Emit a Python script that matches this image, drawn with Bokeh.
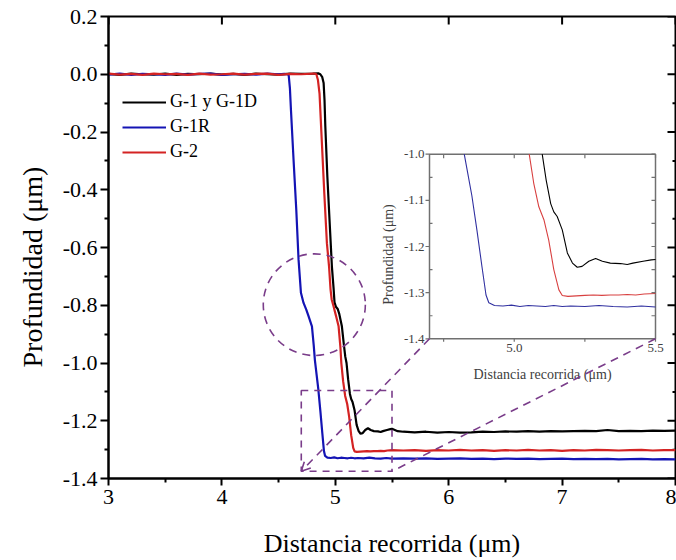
import math
from bokeh.plotting import figure
from bokeh.models import (Range1d, FixedTicker, NumeralTickFormatter, Title,
                          Legend, LegendItem, Arrow, OpenHead)
from bokeh.core.properties import value
from bokeh.embed import file_html
from bokeh.resources import INLINE

# ---------------- data ----------------
flat_x = [3.0, 3.1, 3.2, 3.3, 3.4, 3.5, 3.6, 3.7, 3.8, 3.9, 4.0, 4.1, 4.2, 4.3, 4.4, 4.5]

g1_x = flat_x + [4.6, 4.7, 4.8,
        4.85, 4.868, 4.885, 4.897, 4.905, 4.912, 4.93, 4.949, 4.97, 4.985,
        4.993, 5.005, 5.02, 5.035, 5.058, 5.075, 5.088, 5.099, 5.113, 5.129,
        5.14, 5.152, 5.17, 5.188, 5.206, 5.223, 5.24, 5.264, 5.288, 5.312,
        5.34, 5.376, 5.4, 5.42, 5.456, 5.485, 5.5, 5.55, 5.6, 5.7,
        5.8, 5.9, 6.0, 6.1, 6.2, 6.3, 6.4, 6.5, 6.6, 6.7,
        6.8, 6.9, 7.0, 7.1, 7.2, 7.3, 7.4, 7.5, 7.6, 7.7,
        7.8, 7.9, 8.0]
g1_y = [0.001, -0.002, 0.002, 0.000, -0.001, 0.002, -0.002, 0.001, 0.000, 0.002,
        -0.001, 0.001, -0.002, 0.002, 0.000, -0.001, 0.002, 0.001, 0.002,
        0.003, 0.000, -0.010, -0.030, -0.090, -0.180, -0.355, -0.504, -0.666, -0.742,
        -0.790, -0.805, -0.812, -0.830, -0.873, -0.935, -0.978, -1.000, -1.056, -1.107,
        -1.125, -1.135, -1.164, -1.214, -1.236, -1.245, -1.243, -1.232, -1.226, -1.232,
        -1.236, -1.237, -1.239, -1.236, -1.232, -1.229, -1.228, -1.236, -1.238, -1.240,
        -1.238, -1.241, -1.239, -1.241, -1.240, -1.238, -1.239, -1.237, -1.238, -1.236,
        -1.238, -1.236, -1.237, -1.236, -1.235, -1.236, -1.232, -1.236, -1.235, -1.236,
        -1.234, -1.235, -1.234]

g1r_x = flat_x + [4.55, 4.575, 4.589, 4.60, 4.609, 4.632, 4.656, 4.676, 4.697, 4.72,
         4.744, 4.764, 4.794, 4.81, 4.82, 4.835, 4.85, 4.868, 4.886, 4.90,
         4.91, 4.93, 4.96, 4.99, 5.02, 5.05, 5.08, 5.11, 5.14, 5.17,
         5.2, 5.25, 5.3, 5.35, 5.4, 5.45, 5.5,
         5.6, 5.7, 5.8, 5.9, 6.0, 6.1, 6.2, 6.3, 6.4, 6.5,
         6.6, 6.7, 6.8, 6.9, 7.0, 7.1, 7.2, 7.3, 7.4, 7.5,
         7.6, 7.7, 7.8, 7.9, 8.0]
g1r_y = [-0.001, 0.002, -0.002, 0.001, 0.000, -0.002, 0.002, -0.001, 0.001, 0.002,
         -0.002, 0.000, 0.001, -0.001, 0.002, 0.000,
         0.001, 0.000, -0.003, -0.050, -0.124, -0.297, -0.470, -0.642, -0.757, -0.792,
         -0.815, -0.838, -0.873, -0.940, -0.990, -1.040, -1.090, -1.165, -1.245, -1.305,
         -1.322, -1.328, -1.329, -1.327, -1.330, -1.328, -1.329, -1.330, -1.328, -1.330,
         -1.329, -1.330, -1.328, -1.330, -1.331, -1.329, -1.331,
         -1.330, -1.331, -1.330, -1.332, -1.331, -1.330, -1.332, -1.331, -1.333, -1.331,
         -1.332, -1.331, -1.333, -1.332, -1.331, -1.333, -1.332, -1.333, -1.332, -1.334,
         -1.333, -1.332, -1.334, -1.333, -1.334]

g2_x = flat_x + [4.6, 4.7, 4.8,
        4.82, 4.833, 4.847, 4.861, 4.882, 4.903, 4.926, 4.945, 4.958, 4.968,
        4.985, 5.005, 5.029, 5.045, 5.053, 5.069, 5.087, 5.105, 5.122, 5.14,
        5.158, 5.17, 5.19, 5.22, 5.25, 5.28, 5.31, 5.34, 5.37, 5.4,
        5.43, 5.46, 5.5,
        5.6, 5.7, 5.8, 5.9, 6.0, 6.1, 6.2, 6.3, 6.4, 6.5,
        6.6, 6.7, 6.8, 6.9, 7.0, 7.1, 7.2, 7.3, 7.4, 7.5,
        7.6, 7.7, 7.8, 7.9, 8.0]
g2_y = [0.002, -0.001, 0.001, -0.002, 0.002, 0.000, 0.001, -0.002, 0.002, -0.001,
        0.000, 0.002, -0.001, 0.001, 0.002, -0.002, 0.001, 0.000, 0.002,
        0.002, 0.000, -0.020, -0.067, -0.240, -0.412, -0.585, -0.666, -0.745, -0.780,
        -0.804, -0.835, -0.873, -0.945, -1.000, -1.063, -1.114, -1.142, -1.186, -1.250,
        -1.294, -1.306, -1.308, -1.307, -1.306, -1.305, -1.306, -1.305, -1.305, -1.304,
        -1.305, -1.303, -1.302,
        -1.303, -1.302, -1.304, -1.302, -1.303, -1.301, -1.303, -1.302, -1.304, -1.302,
        -1.303, -1.301, -1.303, -1.302, -1.304, -1.302, -1.303, -1.301, -1.302, -1.303,
        -1.302, -1.301, -1.303, -1.302, -1.302]

series_labels = ["G-1 y G-1D", "G-1R", "G-2"]

x_tick_values = [3, 4, 5, 6, 7, 8]
x_tick_labels = ["3", "4", "5", "6", "7", "8"]
x_minor_values = [3.5, 4.5, 5.5, 6.5, 7.5]
y_tick_values = [-1.4, -1.2, -1.0, -0.8, -0.6, -0.4, -0.2, 0.0, 0.2]
y_tick_labels = ["-1.4", "-1.2", "-1.0", "-0.8", "-0.6", "-0.4", "-0.2", "0.0", "0.2"]
y_minor_values = [-1.3, -1.1, -0.9, -0.7, -0.5, -0.3, -0.1, 0.1]

inset_x_lim = [4.7, 5.5]
inset_y_lim = [-1.4, -1.0]
inset_x_ticks = [5.0, 5.5]
inset_x_tick_labels = ["5.0", "5.5"]
inset_x_minor = [4.75, 5.25]
inset_y_ticks = [-1.4, -1.3, -1.2, -1.1, -1.0]
inset_y_tick_labels = ["-1.4", "-1.3", "-1.2", "-1.1", "-1.0"]
inset_y_minor = [-1.35, -1.25, -1.15, -1.05]

# highlighted regions on the main plot
circle_center = (4.815, -0.798)
circle_size = (0.90, 0.352)
zoom_box = dict(left=4.7, right=5.5, top=-1.095, bottom=-1.375)

for xs, ys in ((g1_x, g1_y), (g1r_x, g1r_y), (g2_x, g2_y)):
    assert len(xs) == len(ys), (len(xs), len(ys))

# ---------------- layout / style ----------------
W, H = 676, 560
F_L, F_R, F_T, F_B = 108, 675, 16, 479          # main frame in px
I_L, I_R, I_T, I_B = 429, 655, 154, 339          # inset frame in px
FONT_S = "Liberation Serif"
FONT = value(FONT_S)
PURPLE = "#7a3d8a"
C_BLACK, C_BLUE, C_RED = "#000000", "#1414b4", "#d42323"
C_BLUE_I, C_RED_I = "#3030a0", "#d84040"

X0, X1 = 3.0, 8.0
Y0, Y1 = -1.4, 0.2

p = figure(width=W, height=H, output_backend="svg", toolbar_location=None,
           x_range=Range1d(X0, X1), y_range=Range1d(Y0, Y1),
           min_border_left=F_L, min_border_right=W - F_R,
           min_border_top=F_T, min_border_bottom=H - F_B,
           background_fill_color="white", border_fill_color="white")
p.xgrid.visible = False
p.ygrid.visible = False
p.outline_line_color = "black"
p.outline_line_width = 2
p.outline_line_alpha = 1.0

xa = p.xaxis[0]
ya = p.yaxis[0]
xa.ticker = FixedTicker(ticks=x_tick_values, minor_ticks=x_minor_values)
ya.ticker = FixedTicker(ticks=y_tick_values, minor_ticks=y_minor_values)
xa.major_label_overrides = {v: l for v, l in zip(x_tick_values, x_tick_labels)}
ya.formatter = NumeralTickFormatter(format="0.0")
ya.major_label_overrides = {v: l for v, l in zip(y_tick_values, y_tick_labels)}
xa.axis_label = "Distancia recorrida (μm)"
for ax in (xa, ya):
    ax.axis_line_width = 2
    ax.axis_line_color = "black"
    ax.major_tick_line_width = 2
    ax.minor_tick_line_width = 2
    ax.major_label_text_font = FONT_S
    ax.major_label_text_font_size = "22px"
    ax.major_label_text_color = "black"
    ax.axis_label_text_font = FONT_S
    ax.axis_label_text_font_size = "26px"
    ax.axis_label_text_font_style = "normal"
    ax.axis_label_text_color = "black"
    ax.major_tick_in = 0
    ax.minor_tick_in = 0
xa.major_tick_out = 7
xa.minor_tick_out = 4
xa.major_label_standoff = 4
xa.axis_label_standoff = 22
ya.major_tick_out = 8
ya.minor_tick_out = 4
ya.major_label_standoff = 3

# y-axis title as a side title, starting a little above the frame bottom as in the reference
p.add_layout(Title(text="Profundidad (μm)", align="left", offset=111, standoff=24,
                   text_font=FONT_S, text_font_size="28px", text_font_style="normal",
                   text_color="black"), "left")

# mirrored ticks on the top and right frame edges (inward)
p.ray(x=x_tick_values, y=[Y1] * len(x_tick_values), length=8, length_units="screen",
      angle=-math.pi / 2, line_color="black", line_width=2)
p.ray(x=[X1] * len(y_tick_values), y=y_tick_values, length=8, length_units="screen",
      angle=math.pi, line_color="black", line_width=2)
p.ray(x=[X1] * len(y_minor_values), y=y_minor_values, length=3, length_units="screen",
      angle=math.pi, line_color="black", line_width=2)

# ---------------- main curves ----------------
r_g1 = p.line(g1_x, g1_y, line_color=C_BLACK, line_width=2.2)
r_g1r = p.line(g1r_x, g1r_y, line_color=C_BLUE, line_width=2.2)
r_g2 = p.line(g2_x, g2_y, line_color=C_RED, line_width=2.2)

# ---------------- annotations on main plot ----------------
p.ellipse(x=[circle_center[0]], y=[circle_center[1]], width=[circle_size[0]], height=[circle_size[1]],
          fill_alpha=0, line_color=PURPLE, line_width=1.6, line_dash="8 6")
p.quad(left=[zoom_box["left"]], right=[zoom_box["right"]], top=[zoom_box["top"]],
       bottom=[zoom_box["bottom"]], fill_alpha=0, line_color=PURPLE, line_width=1.6,
       line_dash="7 6")

# ---------------- inset via extra ranges ----------------
sxu = (I_R - I_L) / (inset_x_lim[1] - inset_x_lim[0])
ix0 = inset_x_lim[0] - (I_L - F_L) / sxu
ix1 = ix0 + (F_R - F_L) / sxu
syu = (I_B - I_T) / (inset_y_lim[1] - inset_y_lim[0])
iy0 = inset_y_lim[0] - (F_B - I_B) / syu
iy1 = iy0 + (F_B - F_T) / syu
p.extra_x_ranges = {"ix": Range1d(ix0, ix1)}
p.extra_y_ranges = {"iy": Range1d(iy0, iy1)}
IR = dict(x_range_name="ix", y_range_name="iy")


def inset_to_main(xv, yv):
    mx = X0 + (xv - ix0) / (ix1 - ix0) * (X1 - X0)
    my = Y0 + (yv - iy0) / (iy1 - iy0) * (Y1 - Y0)
    return mx, my


def clip_polyline(xs, ys, x0, x1, y0, y1):
    out_x, out_y, cx, cy = [], [], [], []
    for i in range(len(xs) - 1):
        ax_, ay_, bx_, by_ = xs[i], ys[i], xs[i + 1], ys[i + 1]
        dx, dy = bx_ - ax_, by_ - ay_
        t0, t1, ok = 0.0, 1.0, True
        for pk, qk in ((-dx, ax_ - x0), (dx, x1 - ax_), (-dy, ay_ - y0), (dy, y1 - ay_)):
            if pk == 0:
                if qk < 0:
                    ok = False
                    break
            else:
                r = qk / pk
                if pk < 0:
                    if r > t1:
                        ok = False
                        break
                    t0 = max(t0, r)
                else:
                    if r < t0:
                        ok = False
                        break
                    t1 = min(t1, r)
        if not ok:
            if cx:
                out_x.append(cx); out_y.append(cy); cx, cy = [], []
            continue
        sx_, sy_ = ax_ + t0 * dx, ay_ + t0 * dy
        ex_, ey_ = ax_ + t1 * dx, ay_ + t1 * dy
        if not cx or t0 > 0:
            if cx:
                out_x.append(cx); out_y.append(cy)
            cx, cy = [sx_], [sy_]
        cx.append(ex_); cy.append(ey_)
        if t1 < 1.0:
            out_x.append(cx); out_y.append(cy); cx, cy = [], []
    if cx:
        out_x.append(cx); out_y.append(cy)
    return out_x, out_y


# inset background/frame
p.quad(left=[inset_x_lim[0]], right=[inset_x_lim[1]], bottom=[inset_y_lim[0]], top=[inset_y_lim[1]],
       fill_color="white", line_color="#707070", line_width=1.5, **IR)

for xs, ys, col in ((g1_x, g1_y, C_BLACK), (g2_x, g2_y, C_RED_I), (g1r_x, g1r_y, C_BLUE_I)):
    mx, my = clip_polyline(xs, ys, inset_x_lim[0], inset_x_lim[1], inset_y_lim[0], inset_y_lim[1])
    p.multi_line(mx, my, line_color=col, line_width=1.1, **IR)

TICK_C = "#707070"
p.ray(x=[inset_x_lim[0]] * len(inset_y_ticks), y=inset_y_ticks, length=4, length_units="screen",
      angle=math.pi, line_color=TICK_C, line_width=1.2, **IR)
p.ray(x=[inset_x_lim[0]] * len(inset_y_minor), y=inset_y_minor, length=3, length_units="screen",
      angle=0, line_color=TICK_C, line_width=1.2, **IR)
p.ray(x=[inset_x_lim[1]] * len(inset_y_ticks + inset_y_minor), y=inset_y_ticks + inset_y_minor,
      length=4, length_units="screen", angle=math.pi, line_color=TICK_C, line_width=1.2, **IR)
p.ray(x=inset_x_ticks + inset_x_minor, y=[inset_y_lim[0]] * 4, length=3, length_units="screen",
      angle=-math.pi / 2, line_color=TICK_C, line_width=1.2, **IR)
p.ray(x=inset_x_ticks + inset_x_minor, y=[inset_y_lim[1]] * 4, length=4, length_units="screen",
      angle=-math.pi / 2, line_color=TICK_C, line_width=1.2, **IR)

LBL_C = "#404040"
p.text(x=[inset_x_lim[0]] * len(inset_y_ticks), y=inset_y_ticks, text=inset_y_tick_labels,
       x_offset=-5, text_align="right", text_baseline="middle", text_font=FONT,
       text_font_size="13px", text_color=LBL_C, **IR)
p.text(x=inset_x_ticks, y=[inset_y_lim[0]] * len(inset_x_ticks), text=inset_x_tick_labels,
       y_offset=5, text_align="center", text_baseline="top", text_font=FONT,
       text_font_size="13px", text_color=LBL_C, **IR)
p.text(x=[sum(inset_x_lim) / 2], y=[inset_y_lim[0]], text=["Distancia recorrida (μm)"],
       y_offset=36, text_align="center", text_baseline="middle", text_font=FONT,
       text_font_size="14px", text_color=LBL_C, **IR)
p.text(x=[inset_x_lim[0]], y=[sum(inset_y_lim) / 2], text=["Profundidad (μm)"],
       x_offset=-41, y_offset=8, angle=math.pi / 2, text_align="center", text_baseline="middle",
       text_font=FONT, text_font_size="14px", text_color=LBL_C, **IR)

# connectors from inset corners to the zoom box
bl = inset_to_main(inset_x_lim[0], inset_y_lim[0])
br = inset_to_main(inset_x_lim[1], inset_y_lim[0])
p.add_layout(Arrow(x_start=bl[0], y_start=bl[1], x_end=zoom_box["left"], y_end=zoom_box["bottom"],
                   line_color=PURPLE, line_width=1.6, line_dash="8 6",
                   end=OpenHead(size=9, line_color=PURPLE, line_width=1.6)))
p.add_layout(Arrow(x_start=br[0], y_start=br[1], x_end=zoom_box["right"], y_end=zoom_box["bottom"],
                   line_color=PURPLE, line_width=1.6, line_dash="8 6", end=None))

# ---------------- legend ----------------
legend = Legend(items=[LegendItem(label=series_labels[0], renderers=[r_g1]),
                       LegendItem(label=series_labels[1], renderers=[r_g1r]),
                       LegendItem(label=series_labels[2], renderers=[r_g2])],
                location=(14, 316), orientation="vertical",
                glyph_width=44, glyph_height=20, label_height=20, label_standoff=4,
                spacing=4, padding=0, margin=0,
                label_text_font=FONT_S, label_text_font_size="18px", label_text_color="black",
                background_fill_alpha=0, border_line_color=None)
p.add_layout(legend)

html = file_html(p, INLINE)
with open("out.html", "w", encoding="utf-8") as f:
    f.write(html)
